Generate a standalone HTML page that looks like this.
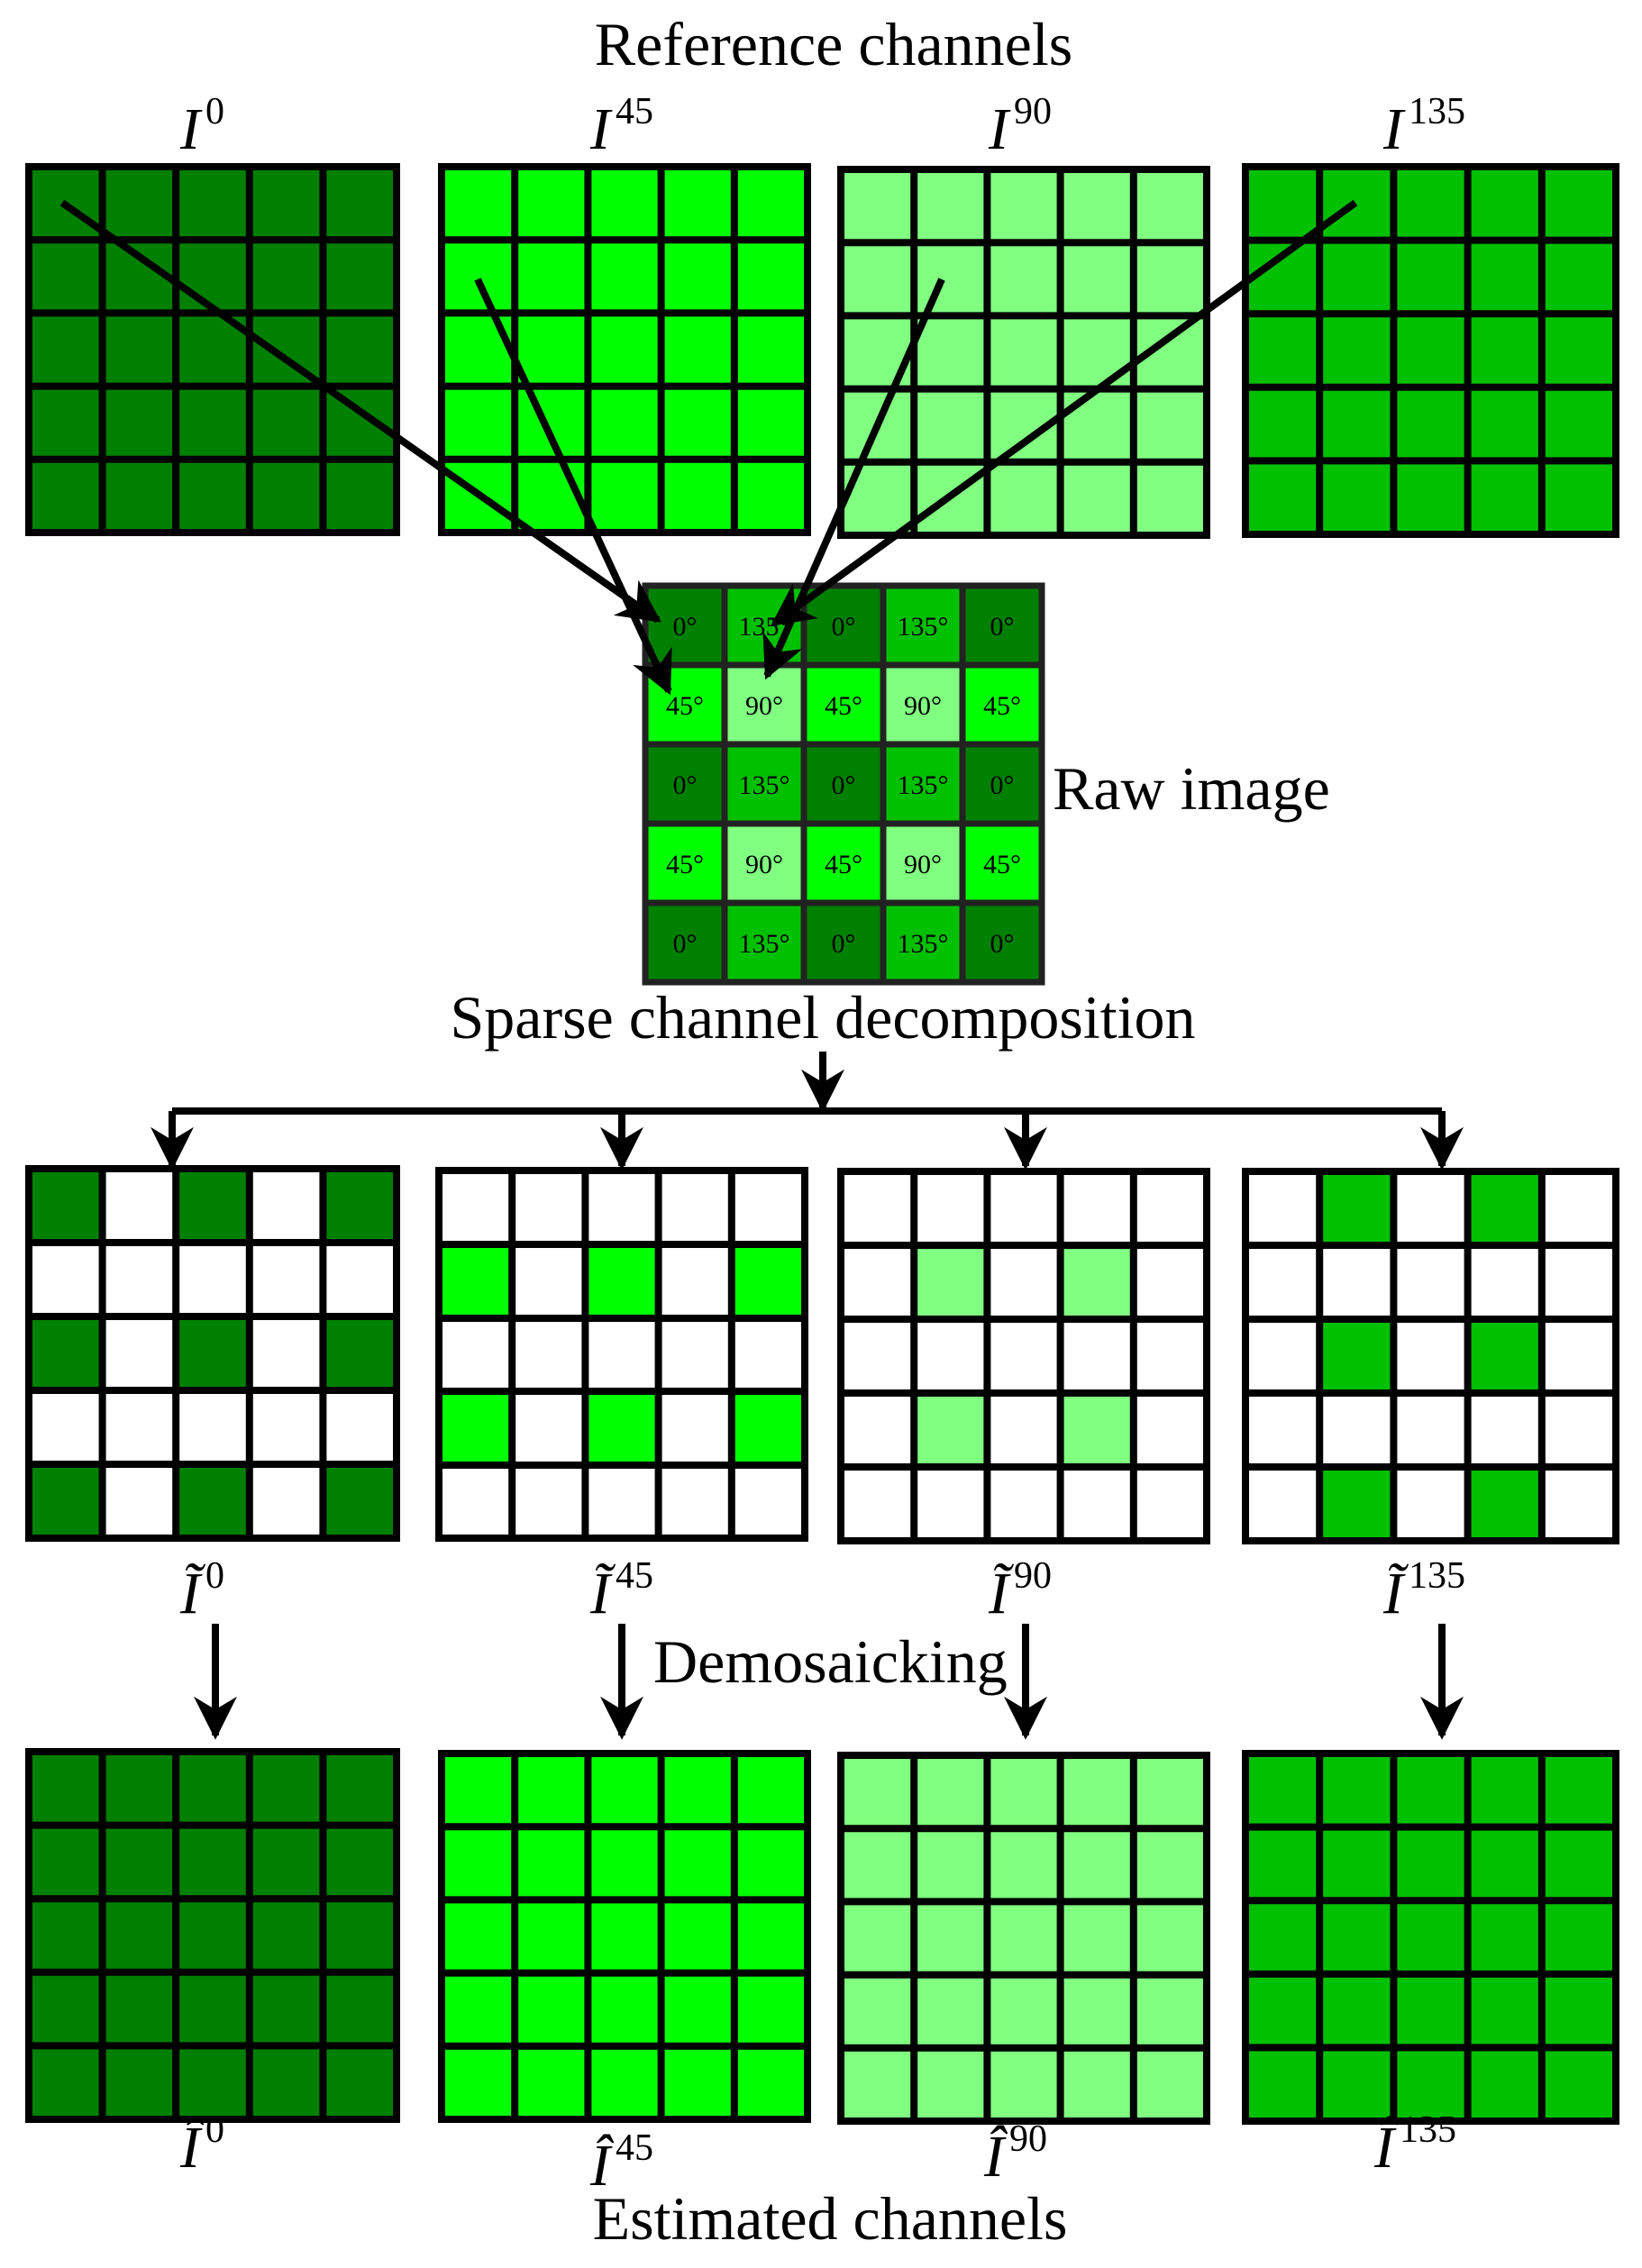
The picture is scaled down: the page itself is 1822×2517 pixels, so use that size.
<!DOCTYPE html>
<html><head><meta charset="utf-8"><style>
html,body{margin:0;padding:0;background:#fff}
svg{display:block}
text{font-family:"Liberation Serif",serif;fill:#000}
.lbl{font-size:66px;font-style:italic}
.sup{font-size:42px;font-style:normal}
.t{font-size:68px}
.c{font-size:30px;text-anchor:middle}
</style></head><body>
<svg width="1822" height="2517" viewBox="0 0 1822 2517" xmlns="http://www.w3.org/2000/svg">
<defs>
<marker id="ah" viewBox="0 0 10 10" refX="9" refY="5" markerWidth="6" markerHeight="6" orient="auto" markerUnits="strokeWidth">
<path d="M0,0 L10,5 L0,10 L3,5 Z" fill="#000"/>
</marker>
</defs>

<text class="t" x="925" y="72" text-anchor="middle">Reference channels</text>
<text class="lbl" x="200" y="165">I<tspan class="sup" dx="6" dy="-28">0</tspan></text>
<text class="lbl" x="655" y="165">I<tspan class="sup" dx="6" dy="-28">45</tspan></text>
<text class="lbl" x="1097" y="165">I<tspan class="sup" dx="6" dy="-28">90</tspan></text>
<text class="lbl" x="1535" y="165">I<tspan class="sup" dx="6" dy="-28">135</tspan></text>

<g stroke="#000" stroke-width="8">
<rect x="32" y="185" width="408" height="406" fill="#008000"/>
<path d="M113.6,185V591M195.2,185V591M276.8,185V591M358.4,185V591M32,266.2H440M32,347.4H440M32,428.6H440M32,509.8H440"/>
<rect x="490" y="185" width="406" height="406" fill="#00ff00"/>
<path d="M571.2,185V591M652.4,185V591M733.6,185V591M814.8,185V591M490,266.2H896M490,347.4H896M490,428.6H896M490,509.8H896"/>
<rect x="933" y="188" width="406" height="406" fill="#80ff80"/>
<path d="M1014.2,188V594M1095.4,188V594M1176.6,188V594M1257.8,188V594M933,269.2H1339M933,350.4H1339M933,431.6H1339M933,512.8H1339"/>
<rect x="1382" y="185" width="411" height="408" fill="#00c000"/>
<path d="M1464.2,185V593M1546.4,185V593M1628.6,185V593M1710.8,185V593M1382,266.6H1793M1382,348.2H1793M1382,429.8H1793M1382,511.4H1793"/>
</g>

<g stroke="#222" stroke-width="7">
<rect x="716" y="650" width="88" height="88" fill="#008000"/><rect x="804" y="650" width="88" height="88" fill="#00c000"/><rect x="892" y="650" width="88" height="88" fill="#008000"/><rect x="980" y="650" width="88" height="88" fill="#00c000"/><rect x="1068" y="650" width="88" height="88" fill="#008000"/>
<rect x="716" y="738" width="88" height="88" fill="#00ff00"/><rect x="804" y="738" width="88" height="88" fill="#80ff80"/><rect x="892" y="738" width="88" height="88" fill="#00ff00"/><rect x="980" y="738" width="88" height="88" fill="#80ff80"/><rect x="1068" y="738" width="88" height="88" fill="#00ff00"/>
<rect x="716" y="826" width="88" height="88" fill="#008000"/><rect x="804" y="826" width="88" height="88" fill="#00c000"/><rect x="892" y="826" width="88" height="88" fill="#008000"/><rect x="980" y="826" width="88" height="88" fill="#00c000"/><rect x="1068" y="826" width="88" height="88" fill="#008000"/>
<rect x="716" y="914" width="88" height="88" fill="#00ff00"/><rect x="804" y="914" width="88" height="88" fill="#80ff80"/><rect x="892" y="914" width="88" height="88" fill="#00ff00"/><rect x="980" y="914" width="88" height="88" fill="#80ff80"/><rect x="1068" y="914" width="88" height="88" fill="#00ff00"/>
<rect x="716" y="1002" width="88" height="88" fill="#008000"/><rect x="804" y="1002" width="88" height="88" fill="#00c000"/><rect x="892" y="1002" width="88" height="88" fill="#008000"/><rect x="980" y="1002" width="88" height="88" fill="#00c000"/><rect x="1068" y="1002" width="88" height="88" fill="#008000"/>
</g>
<g>
<text class="c" x="760" y="705">0°</text><text class="c" x="848" y="705">135°</text><text class="c" x="936" y="705">0°</text><text class="c" x="1024" y="705">135°</text><text class="c" x="1112" y="705">0°</text>
<text class="c" x="760" y="793">45°</text><text class="c" x="848" y="793">90°</text><text class="c" x="936" y="793">45°</text><text class="c" x="1024" y="793">90°</text><text class="c" x="1112" y="793">45°</text>
<text class="c" x="760" y="881">0°</text><text class="c" x="848" y="881">135°</text><text class="c" x="936" y="881">0°</text><text class="c" x="1024" y="881">135°</text><text class="c" x="1112" y="881">0°</text>
<text class="c" x="760" y="969">45°</text><text class="c" x="848" y="969">90°</text><text class="c" x="936" y="969">45°</text><text class="c" x="1024" y="969">90°</text><text class="c" x="1112" y="969">45°</text>
<text class="c" x="760" y="1057">0°</text><text class="c" x="848" y="1057">135°</text><text class="c" x="936" y="1057">0°</text><text class="c" x="1024" y="1057">135°</text><text class="c" x="1112" y="1057">0°</text>
</g>
<text class="t" x="1168" y="898">Raw image</text>

<g stroke="#000" stroke-width="8" fill="none" marker-end="url(#ah)">
<path d="M69,225L730,688"/>
<path d="M530,310L742,767"/>
<path d="M1045,310L851,750"/>
<path d="M1504,225L859,692"/>
</g>

<text class="t" x="913" y="1152" text-anchor="middle">Sparse channel decomposition</text>
<g stroke="#000" stroke-width="8" fill="none">
<path d="M913,1167V1230" marker-end="url(#ah)"/>
<path d="M191,1233H1600"/>
<path d="M191,1233V1294" marker-end="url(#ah)"/>
<path d="M690,1233V1294" marker-end="url(#ah)"/>
<path d="M1138,1233V1294" marker-end="url(#ah)"/>
<path d="M1600,1233V1294" marker-end="url(#ah)"/>
</g>

<g stroke="#000" stroke-width="8">
<rect x="32" y="1297" width="408" height="410" fill="#fff"/>
<g fill="#008000" stroke="none">
<rect x="32" y="1297" width="82" height="82"/><rect x="195" y="1297" width="82" height="82"/><rect x="358" y="1297" width="82" height="82"/>
<rect x="32" y="1461" width="82" height="82"/><rect x="195" y="1461" width="82" height="82"/><rect x="358" y="1461" width="82" height="82"/>
<rect x="32" y="1625" width="82" height="82"/><rect x="195" y="1625" width="82" height="82"/><rect x="358" y="1625" width="82" height="82"/>
</g>
<rect x="32" y="1297" width="408" height="410" fill="none"/>
<path d="M113.6,1297V1707M195.2,1297V1707M276.8,1297V1707M358.4,1297V1707M32,1379H440M32,1461H440M32,1543H440M32,1625H440"/>

<rect x="487" y="1299" width="406" height="408" fill="#fff"/>
<g fill="#00ff00" stroke="none">
<rect x="487" y="1381" width="81" height="82"/><rect x="649" y="1381" width="81" height="82"/><rect x="812" y="1381" width="81" height="82"/>
<rect x="487" y="1544" width="81" height="82"/><rect x="649" y="1544" width="81" height="82"/><rect x="812" y="1544" width="81" height="82"/>
</g>
<rect x="487" y="1299" width="406" height="408" fill="none"/>
<path d="M568.2,1299V1707M649.4,1299V1707M730.6,1299V1707M811.8,1299V1707M487,1381H893M487,1463H893M487,1544H893M487,1626H893"/>

<rect x="933" y="1300" width="406" height="410" fill="#fff"/>
<g fill="#80ff80" stroke="none">
<rect x="1014" y="1382" width="81" height="82"/><rect x="1177" y="1382" width="81" height="82"/>
<rect x="1014" y="1546" width="81" height="82"/><rect x="1177" y="1546" width="81" height="82"/>
</g>
<rect x="933" y="1300" width="406" height="410" fill="none"/>
<path d="M1014.2,1300V1710M1095.4,1300V1710M1176.6,1300V1710M1257.8,1300V1710M933,1382H1339M933,1464H1339M933,1546H1339M933,1628H1339"/>

<rect x="1382" y="1300" width="411" height="410" fill="#fff"/>
<g fill="#00c000" stroke="none">
<rect x="1464" y="1300" width="82" height="82"/><rect x="1629" y="1300" width="82" height="82"/>
<rect x="1464" y="1464" width="82" height="82"/><rect x="1629" y="1464" width="82" height="82"/>
<rect x="1464" y="1628" width="82" height="82"/><rect x="1629" y="1628" width="82" height="82"/>
</g>
<rect x="1382" y="1300" width="411" height="410" fill="none"/>
<path d="M1464.2,1300V1710M1546.4,1300V1710M1628.6,1300V1710M1710.8,1300V1710M1382,1382H1793M1382,1464H1793M1382,1546H1793M1382,1628H1793"/>
</g>

<text class="lbl" x="200" y="1790">Ĩ<tspan class="sup" dx="6" dy="-28">0</tspan></text>
<text class="lbl" x="655" y="1790">Ĩ<tspan class="sup" dx="6" dy="-28">45</tspan></text>
<text class="lbl" x="1097" y="1790">Ĩ<tspan class="sup" dx="6" dy="-28">90</tspan></text>
<text class="lbl" x="1535" y="1790">Ĩ<tspan class="sup" dx="6" dy="-28">135</tspan></text>

<g stroke="#000" stroke-width="8" fill="none" marker-end="url(#ah)">
<path d="M239,1802V1926"/><path d="M690,1802V1926"/><path d="M1138,1802V1926"/><path d="M1600,1802V1926"/>
</g>
<text class="t" x="725" y="1867">Demosaicking</text>

<g stroke="#000" stroke-width="8">
<rect x="32" y="1944" width="408" height="408" fill="#008000"/>
<path d="M113.6,1944V2352M195.2,1944V2352M276.8,1944V2352M358.4,1944V2352M32,2025.6H440M32,2107.2H440M32,2188.8H440M32,2270.4H440"/>
<rect x="490" y="1946" width="406" height="406" fill="#00ff00"/>
<path d="M571.2,1946V2352M652.4,1946V2352M733.6,1946V2352M814.8,1946V2352M490,2027.2H896M490,2108.4H896M490,2189.6H896M490,2270.8H896"/>
<rect x="933" y="1948" width="406" height="406" fill="#80ff80"/>
<path d="M1014.2,1948V2354M1095.4,1948V2354M1176.6,1948V2354M1257.8,1948V2354M933,2029.2H1339M933,2110.4H1339M933,2191.6H1339M933,2272.8H1339"/>
<rect x="1382" y="1946" width="411" height="408" fill="#00c000"/>
<path d="M1464.2,1946V2354M1546.4,1946V2354M1628.6,1946V2354M1710.8,1946V2354M1382,2027.6H1793M1382,2109.2H1793M1382,2190.8H1793M1382,2272.4H1793"/>
</g>

<text class="lbl" x="200" y="2405">Î<tspan class="sup" dx="6" dy="-28">0</tspan></text>
<text class="lbl" x="655" y="2425">Î<tspan class="sup" dx="6" dy="-28">45</tspan></text>
<text class="lbl" x="1092" y="2415">Î<tspan class="sup" dx="6" dy="-28">90</tspan></text>
<text class="lbl" x="1525" y="2405">Î<tspan class="sup" dx="6" dy="-28">135</tspan></text>

<text class="t" x="921" y="2485" text-anchor="middle">Estimated channels</text>
</svg>
</body></html>
